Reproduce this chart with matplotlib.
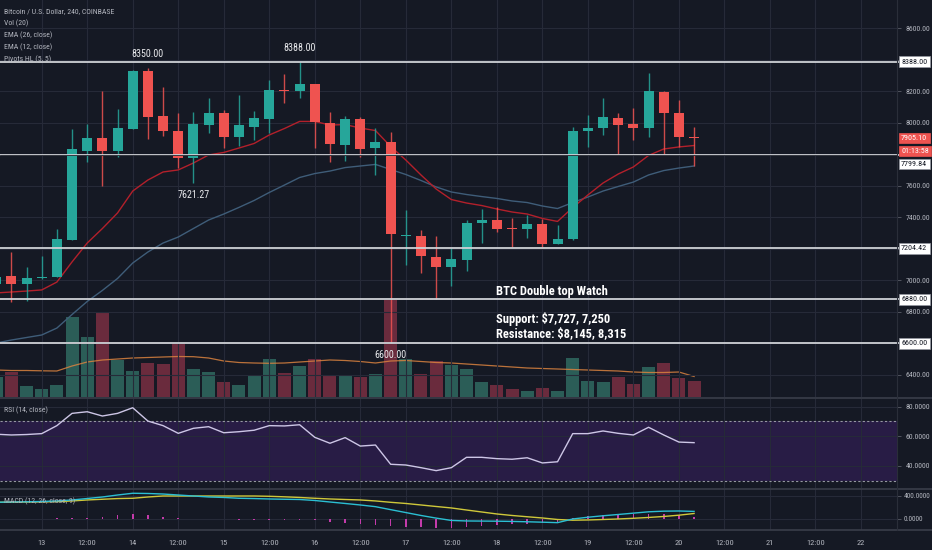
import matplotlib
matplotlib.use("Agg")
import matplotlib.pyplot as plt
import matplotlib.transforms as mtransforms
from matplotlib.lines import Line2D
import numpy as np
import pandas as pd

W, H = 932, 550
BG = "#151924"
GRID = "#262a38"
AXTXT = "#b2b5be"
UP = "#26a69a"
DOWN = "#ef5350"
plt.rcParams["font.family"] = ["Roboto Condensed", "Archivo Narrow", "DejaVu Sans"]

# ---------------- data (4h candles, BTC/USD Coinbase) ----------------
first_bar = "2018-11-12 12:00"
opens = [6978, 7029, 6978, 7016, 7024, 7257, 7824, 7903, 7824, 7962, 8330, 8044, 7951, 7780, 7987, 8062,
         7909, 7976, 8025, 8209, 8203, 8248, 8002, 7860, 8023, 7839, 7881, 7282, 7284, 7151, 7088, 7130,
         7363, 7384, 7330, 7325, 7357, 7232, 7262, 7949, 7966, 8034, 7992, 7966, 8195, 8062, 7914]
highs = [7067, 7183, 7086, 7156, 7325, 7960, 7994, 8205, 8087, 8336, 8350, 8227, 8062, 8068, 8157, 8082,
         8178, 8076, 8273, 8311, 8388, 8248, 8068, 8044, 8040, 7966, 7941, 7448, 7321, 7282, 7204, 7384,
         7452, 7469, 7395, 7416, 7390, 7352, 7976, 8051, 8161, 8062, 8097, 8319, 8203, 8146, 7976]
lows = [6940, 6865, 6872, 7010, 7022, 7257, 7750, 7602, 7786, 7962, 7896, 7919, 7712, 7621.27, 7938, 7839,
        7856, 7892, 7938, 8125, 8160, 7843, 7754, 7759, 7782, 7670, 6600, 7098, 7046, 6880, 6965, 7060,
        7236, 7310, 7215, 7268, 7215, 7232, 7257, 7850, 7924, 7803, 7892, 7913, 7803, 7850, 7727]
closes = [7022, 6978, 7018, 7020, 7262, 7833, 7903, 7824, 7966, 8330, 8040, 7949, 7780, 7992, 8062, 7913,
          7987, 8030, 8209, 8203, 8248, 8004, 7865, 8023, 7833, 7877, 7295, 7287, 7156, 7088, 7136, 7367,
          7384, 7327, 7324, 7357, 7232, 7262, 7951, 7970, 8036, 7987, 7966, 8205, 8062, 7913, 7905.10]
volumes = [2030, 2470, 1100, 830, 1200, 8030, 6030, 8430, 3700, 2630, 3430, 3270, 5430, 2770, 2470, 1530,
           1200, 2130, 3800, 2370, 3130, 3800, 2200, 2200, 2030, 2270, 9700, 3800, 2270, 3600, 3200, 2800,
           1530, 1200, 770, 600, 870, 600, 3930, 1600, 1530, 1970, 1270, 3030, 3370, 1930, 1600]
vol_ma = [2700, 2650, 2650, 2620, 2600, 3100, 3500, 3700, 3800, 3900, 3950, 4000, 4050, 4030, 3900, 3600,
          3450, 3400, 3370, 3400, 3500, 3600, 3700, 3650, 3550, 3400, 3600, 3650, 3550, 3450, 3400, 3300,
          3200, 3100, 3000, 2900, 2850, 2800, 2750, 2700, 2650, 2600, 2500, 2450, 2450, 2500, 2050]
ema12 = [6921, 6927, 6933, 6940, 6990, 7118, 7238, 7330, 7429, 7568, 7638, 7689, 7702, 7746, 7797, 7813,
         7841, 7870, 7924, 7965, 8010, 8010, 7987, 7990, 7968, 7952, 7851, 7765, 7670, 7581, 7514, 7492,
         7476, 7454, 7435, 7422, 7394, 7375, 7463, 7543, 7619, 7676, 7721, 7794, 7835, 7848, 7857]
ema26 = [6603, 6622, 6638, 6654, 6698, 6784, 6867, 6937, 7013, 7111, 7181, 7238, 7276, 7330, 7384, 7422,
         7464, 7508, 7559, 7606, 7654, 7679, 7695, 7717, 7727, 7737, 7705, 7673, 7635, 7594, 7562, 7546,
         7533, 7521, 7505, 7495, 7473, 7457, 7495, 7530, 7568, 7597, 7625, 7670, 7698, 7714, 7727]
rsi = [61.4, 60.9, 61.2, 61.8, 67.2, 75.5, 76.6, 73.7, 75.5, 79.3, 70.3, 67.2, 62.0, 65.4, 66.5, 62.4,
       63.1, 64.1, 67.2, 67.0, 67.8, 59.3, 55.3, 59.1, 53.4, 54.1, 41.1, 40.6, 38.8, 36.8, 38.8, 45.8,
       45.8, 44.9, 44.5, 45.5, 42.0, 42.8, 61.8, 61.8, 63.6, 62.0, 60.9, 66.1, 60.9, 56.1, 55.7]
macd = [286, 291, 295, 300, 309, 326, 351, 377, 411, 441, 437, 428, 411, 394, 377, 369,
        355, 350, 343, 338, 334, 317, 291, 266, 240, 211, 160, 110, 60, 15, -25, -34,
        -36, -38, -42, -48, -55, -63, 0, 30, 55, 77, 100, 123, 134, 137, 130]
signal = [286, 288, 291, 293, 297, 309, 326, 338, 350, 355, 377, 394, 394, 394, 394, 394,
          394, 394, 389, 380, 369, 355, 343, 334, 326, 309, 286, 266, 240, 214, 189, 154,
          120, 86, 60, 38, 17, -9, -21, -17, -9, 0, 12, 26, 43, 65, 94]
hist = [0, 3, 4, 7, 12, 17, 25, 39, 61, 86, 60, 35, 17, 0, -5, -8,
        -10, -12, -12, -12, -14, -20, -52, -68, -86, -98, -115, -130, -140, -150, -150, -140,
        -125, -105, -90, -80, -70, -54, 21, 45, 60, 70, 80, 85, 80, 65, 35]
hline_levels = [8388.00, 7799.84, 7204.42, 6880.00, 6600.00]
pivot_high_idx = [10, 20]
pivot_low_idx = [13, 26]
last_price = 7905.10
countdown = "01:13:58"

# ---------------- layout helpers ----------------
PX_PER_DAY = 91.03
X0_PX = 41.7          # pixel of day 13 00:00
PLOT_R = 897          # right edge of the plotting area (px)
XMIN = -X0_PX / PX_PER_DAY
XMAX = (PLOT_R - X0_PX) / PX_PER_DAY
FS_AX = 5.6


def rect(x0, y0, x1, y1):
    return [x0 / W, 1 - y1 / H, (x1 - x0) / W, (y1 - y0) / H]


times = pd.date_range(first_bar, periods=len(opens), freq="4h")
t = np.asarray((times - pd.Timestamp("2018-11-13")) / pd.Timedelta(days=1), dtype=float)
o = np.array(opens, float)
h = np.array(highs, float)
l = np.array(lows, float)
c = np.array(closes, float)
up = c >= o
ccol = np.where(up, UP, DOWN)

fig = plt.figure(figsize=(W / 100, H / 100), dpi=100, facecolor=BG)
ax_vol = fig.add_axes(rect(0, 0, PLOT_R, 397), facecolor=BG)
ax = fig.add_axes(rect(0, 0, PLOT_R, 397), facecolor="none")
ax_rsi = fig.add_axes(rect(0, 399, PLOT_R, 488), facecolor=BG)
ax_macd = fig.add_axes(rect(0, 489, PLOT_R, 530), facecolor=BG)

xt = np.arange(0, 9.01, 0.5)
xt_labels = [str(13 + int(v)) if float(v).is_integer() else "12:00" for v in xt]

for a in (ax_vol, ax, ax_rsi, ax_macd):
    a.set_xlim(XMIN, XMAX)
    for s in a.spines.values():
        s.set_visible(False)
    a.set_xticks(xt)
    a.tick_params(axis="x", length=0, labelbottom=False)

# ---------------- volume ----------------
vcol = np.where(up, "#2b5d57", "#6a2b3d")
ax_vol.bar(t, volumes, width=13 / PX_PER_DAY, color=vcol, lw=0, zorder=2)
ax_vol.plot(t, vol_ma, color="#d9823f", lw=0.9, alpha=0.85, zorder=3)
ax_vol.set_ylim(0, 39700)
ax_vol.set_yticks([])
ax_vol.grid(axis="x", color=GRID, lw=0.8, zorder=0)

# ---------------- price pane ----------------
ax.set_ylim(6260.3, 8780.95)
ax.grid(True, color=GRID, lw=0.8, zorder=0)
ax.set_axisbelow(True)
ticks = np.arange(6400, 8601, 200)
shown = {8600, 8200, 8000, 7600, 7400, 7000, 6800, 6400}
ax.set_yticks(ticks)
ax.set_yticklabels([f"{v:.2f}" if v in shown else "" for v in ticks])
ax.yaxis.tick_right()
ax.tick_params(axis="y", length=3, width=0.7, color="#50535e", labelsize=FS_AX,
               labelcolor=AXTXT, pad=3)

ax.plot(t, ema26, color="#3f5d79", lw=1.0, zorder=3)
ax.plot(t, ema12, color="#b3202b", lw=1.0, zorder=3)
ax.vlines(t, l, h, colors=ccol, lw=1.0, zorder=4, alpha=0.85)
body_h = np.maximum(np.abs(c - o), 6.5)
ax.bar(t, body_h, bottom=np.minimum(o, c), width=10 / PX_PER_DAY, color=ccol, lw=0, zorder=5)

for lev in hline_levels:
    ax.plot([XMIN, XMAX + 2 / PX_PER_DAY], [lev, lev], color="#cfd1d6", lw=1.3,
            zorder=6, clip_on=False, solid_capstyle="butt")
ax.plot([XMIN, XMAX], [7799.84, 7799.84], color="#1b1e27", lw=0.6, zorder=6)

for i in pivot_high_idx:
    ax.annotate(f"{highs[i]:.2f}", xy=(t[i], highs[i]), xytext=(0, 14), textcoords="offset pixels",
                ha="center", va="center", color="#e8e9ec", fontsize=7.2, zorder=7)
for i in pivot_low_idx:
    ax.annotate(f"{lows[i]:.2f}", xy=(t[i], lows[i]), xytext=(0, -12), textcoords="offset pixels",
                ha="center", va="center", color="#e8e9ec", fontsize=7.2, zorder=7)

note_fs = 9.0
ax.text(496 / PLOT_R, 1 - 291 / 397, "BTC Double top Watch", transform=ax.transAxes,
        ha="left", va="center", color="white", fontsize=note_fs, fontweight="bold", zorder=7)
ax.text(496 / PLOT_R, 1 - 319 / 397, "Support: $7,727, 7,250", transform=ax.transAxes,
        ha="left", va="center", color="white", fontsize=note_fs, fontweight="bold", zorder=7)
ax.text(496 / PLOT_R, 1 - 334 / 397, "Resistance: $8,145, 8,315", transform=ax.transAxes,
        ha="left", va="center", color="white", fontsize=note_fs, fontweight="bold", zorder=7)

# price-scale boxes
trans = mtransforms.blended_transform_factory(ax.transAxes, ax.transData)
bx = 1 + 4 / PLOT_R
boxes = [(8388.00, "8388.00", "white", "#131722"),
         (last_price, f"{last_price:.2f}", DOWN, "white"),
         (7822.2, countdown, DOWN, "white"),
         (7739.7, "7799.84", "white", "#131722"),
         (7204.42, "7204.42", "white", "#131722"),
         (6880.00, "6880.00", "white", "#131722"),
         (6600.00, "6600.00", "white", "#131722")]
for yv, txt, fc, tc in boxes:
    ax.text(bx, yv, txt, transform=trans, ha="left", va="center", fontsize=FS_AX + 0.2, color=tc,
            clip_on=False, zorder=8,
            bbox=dict(boxstyle="square,pad=0.3", fc=fc, ec="#9598a1" if fc == "white" else fc, lw=0.5))

# legend texts
leg = ["Bitcoin / U.S. Dollar, 240, COINBASE", "Vol (20)", "EMA (26, close)", "EMA (12, close)",
       "Pivots HL (5, 5)"]
for j, s in enumerate(leg):
    fig.text(4 / W, 1 - (11.5 + 11.8 * j) / H, s, ha="left", va="center", fontsize=5.6, color=AXTXT)

# ---------------- RSI ----------------
ax_rsi.set_ylim(25.07, 85.2)
ax_rsi.axhspan(30, 70, color="#281c45", lw=0, zorder=1)
ax_rsi.grid(True, color=GRID, lw=0.8, zorder=2)
ax_rsi.set_axisbelow(False)
for lv in (70, 30):
    ax_rsi.axhline(lv, color="#9598a1", lw=0.8, ls=(0, (2, 2)), zorder=3)
ax_rsi.plot(t, rsi, color="#cdc6e6", lw=1.0, zorder=4)
ax_rsi.set_yticks([40, 60, 80])
ax_rsi.set_yticklabels(["40.0000", "60.0000", "80.0000"])
ax_rsi.yaxis.tick_right()
ax_rsi.tick_params(axis="y", length=3, width=0.7, color="#50535e", labelsize=FS_AX,
                   labelcolor=AXTXT, pad=3)
fig.text(4 / W, 1 - 410 / H, "RSI (14, close)", ha="left", va="center", fontsize=5.6, color=AXTXT)

# ---------------- MACD ----------------
ax_macd.set_ylim(-189, 514)
ax_macd.grid(True, color=GRID, lw=0.8, zorder=0)
ax_macd.set_axisbelow(True)
ax_macd.bar(t, hist, width=1.6 / PX_PER_DAY, color="#c43bab", lw=0, zorder=2)
ax_macd.plot(t, signal, color="#cfc83a", lw=1.0, zorder=3)
ax_macd.plot(t, macd, color="#2bbfd3", lw=1.0, zorder=4)
ax_macd.set_yticks([0, 400])
ax_macd.set_yticklabels(["0.0000", "400.0000"])
ax_macd.yaxis.tick_right()
ax_macd.tick_params(axis="y", length=3, width=0.7, color="#50535e", labelsize=5.3,
                    labelcolor=AXTXT, pad=2)
ax_macd.set_xticklabels(xt_labels)
ax_macd.tick_params(axis="x", length=0, labelbottom=True, labelsize=6.0, labelcolor=AXTXT, pad=7)
fig.text(4 / W, 1 - 501 / H, "MACD (12, 26, close, 9)", ha="left", va="center", fontsize=5.6,
         color=AXTXT)

# pane separators
for yy in (398, 488.5, 530):
    fig.add_artist(Line2D([0, 1], [1 - yy / H] * 2, color="#3a3e4a", lw=1.2))
fig.add_artist(Line2D([PLOT_R / W] * 2, [1 - 530 / H, 1], color="#2a2e39", lw=0.8))

fig.savefig("out.png", dpi=100, facecolor=BG)
